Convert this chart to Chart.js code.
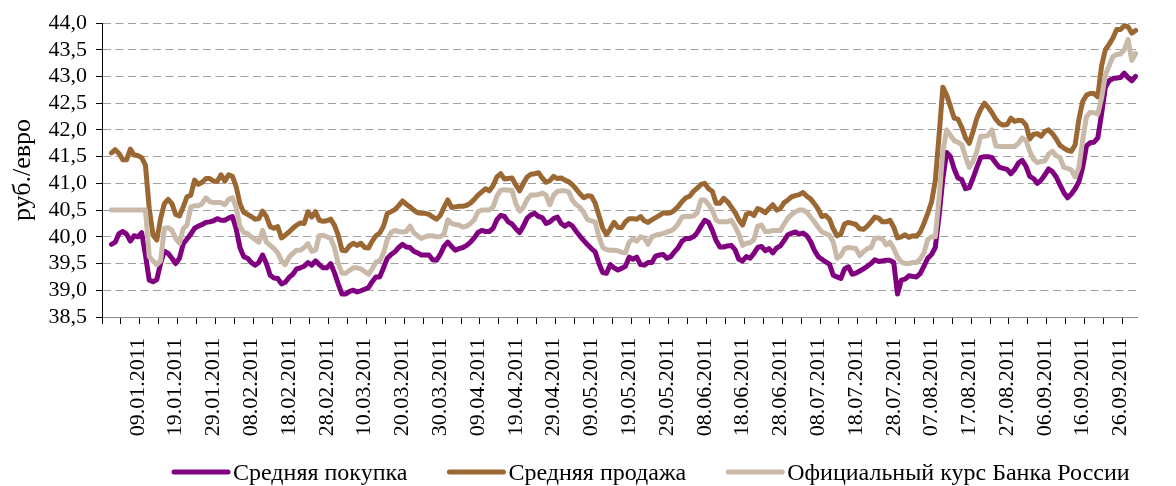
<!DOCTYPE html>
<html>
<head>
<meta charset="utf-8">
<script src="https://cdn.jsdelivr.net/npm/chart.js@4/dist/chart.umd.min.js"></script>
<style>
  html, body { margin: 0; padding: 0; background: #fff; }
  #wrap { width: 1176px; height: 486px; position: relative; }
</style>
</head>
<body>
<div id="wrap"><canvas id="myChart"></canvas></div>
<script>
// daily categories 31.12.2010 - 30.09.2011
const firstDay = new Date(2010, 11, 31);
const dayCount = 274;
const dates = [];
for (let i = 0; i < dayCount; i++) {
  const d = new Date(firstDay.getFullYear(), firstDay.getMonth(), firstDay.getDate() + i);
  dates.push(String(d.getDate()).padStart(2, '0') + '.' + String(d.getMonth() + 1).padStart(2, '0') + '.' + d.getFullYear());
}

const seriesNames = ['Средняя покупка', 'Средняя продажа', 'Официальный курс Банка России'];
const yTicks = [38.5, 44.0, 0.5]; // min, max, step

const buy = [null, null,
  39.86, 39.9, 40.06, 40.1, 40.05, 39.92, 40.02, 40.0, 40.08, 39.66,
  39.19, 39.16, 39.2, 39.5, 39.73, 39.69, 39.6, 39.5, 39.6, 39.87,
  39.96, 40.05, 40.16, 40.2, 40.23, 40.27, 40.28, 40.3, 40.34, 40.31,
  40.31, 40.35, 40.38, 40.15, 39.8, 39.63, 39.6, 39.52, 39.47, 39.52,
  39.66, 39.5, 39.28, 39.23, 39.22, 39.12, 39.15, 39.24, 39.3, 39.4,
  39.42, 39.45, 39.52, 39.47, 39.55, 39.48, 39.42, 39.42, 39.5, 39.33,
  39.12, 38.93, 38.93, 38.98, 39.0, 38.97, 38.99, 39.02, 39.05, 39.16,
  39.25, 39.25, 39.42, 39.6, 39.67, 39.72, 39.8, 39.86, 39.81, 39.8,
  39.73, 39.7, 39.66, 39.66, 39.66, 39.57, 39.56, 39.67, 39.82, 39.9,
  39.82, 39.75, 39.78, 39.8, 39.84, 39.9, 39.98, 40.08, 40.12, 40.1,
  40.1, 40.16, 40.32, 40.4, 40.38, 40.28, 40.24, 40.15, 40.08, 40.2,
  40.35, 40.41, 40.44, 40.38, 40.36, 40.25, 40.28, 40.34, 40.37, 40.25,
  40.2, 40.25, 40.2, 40.1, 40.01, 39.93, 39.85, 39.78, 39.72, 39.5,
  39.33, 39.32, 39.48, 39.42, 39.38, 39.41, 39.45, 39.62, 39.58, 39.62,
  39.48, 39.47, 39.52, 39.52, 39.64, 39.66, 39.67, 39.6, 39.63, 39.72,
  39.8, 39.92, 39.97, 39.97, 40.0, 40.08, 40.2, 40.31, 40.27, 40.12,
  39.93, 39.81, 39.81, 39.83, 39.84, 39.76, 39.58, 39.55, 39.63, 39.6,
  39.69, 39.8, 39.82, 39.74, 39.78, 39.7, 39.79, 39.83, 39.93, 40.04,
  40.07, 40.09, 40.05, 40.07, 40.02, 39.91, 39.75, 39.63, 39.58, 39.53,
  39.49, 39.28, 39.25, 39.22, 39.4, 39.44, 39.3, 39.32, 39.36, 39.4,
  39.45, 39.5, 39.57, 39.54, 39.55, 39.56, 39.56, 39.52, 38.93, 39.19,
  39.21, 39.27, 39.26, 39.25, 39.31, 39.45, 39.6, 39.67, 39.8, 40.4,
  41.09, 41.58, 41.5, 41.27, 41.1, 41.07, 40.9, 40.92, 41.1, 41.3,
  41.48, 41.5, 41.5, 41.48, 41.38, 41.3, 41.28, 41.26, 41.18, 41.26,
  41.38, 41.43, 41.32, 41.13, 41.09, 41.0, 41.06, 41.16, 41.27, 41.22,
  41.12, 40.97, 40.83, 40.73, 40.8, 40.9, 41.03, 41.3, 41.7, 41.76,
  41.77, 41.85, 42.3, 42.8, 42.92, 42.96, 42.97, 42.98, 43.06, 42.98, 42.92, 43.0
];

const sell = [null, null,
  41.57, 41.63, 41.56, 41.44, 41.44, 41.64, 41.53, 41.52, 41.48, 41.34,
  40.53, 40.03, 39.94, 40.34, 40.62, 40.7, 40.62, 40.42, 40.39, 40.56,
  40.75, 40.78, 41.06, 40.98, 41.02, 41.09, 41.09, 41.04, 41.04, 41.16,
  41.04, 41.16, 41.13, 40.94, 40.62, 40.46, 40.42, 40.38, 40.33, 40.34,
  40.48, 40.38, 40.19, 40.16, 40.19, 39.98, 40.03, 40.09, 40.16, 40.22,
  40.26, 40.25, 40.47, 40.37, 40.47, 40.31, 40.29, 40.3, 40.33, 40.22,
  40.03, 39.75, 39.74, 39.83, 39.88, 39.84, 39.88, 39.8, 39.79, 39.92,
  40.02, 40.07, 40.2, 40.44, 40.47, 40.51, 40.58, 40.67, 40.61, 40.56,
  40.5, 40.45, 40.44, 40.44, 40.42, 40.37, 40.33, 40.4, 40.55, 40.69,
  40.55, 40.56, 40.57, 40.57, 40.59, 40.63, 40.7, 40.78, 40.84, 40.9,
  40.86, 40.96, 41.12, 41.18, 41.08, 41.09, 41.1, 40.97, 40.86, 41.0,
  41.12, 41.17, 41.18, 41.2, 41.1, 41.02, 41.05, 41.13, 41.09, 41.1,
  41.06, 41.03, 40.97, 40.89, 40.8, 40.73, 40.77, 40.76, 40.63, 40.4,
  40.16, 40.04, 40.15, 40.27, 40.18, 40.17, 40.28, 40.34, 40.34, 40.33,
  40.38, 40.3, 40.27, 40.32, 40.36, 40.4, 40.45, 40.44, 40.45, 40.5,
  40.57, 40.66, 40.73, 40.76, 40.85, 40.91, 40.98, 41.0, 40.9, 40.85,
  40.63, 40.63, 40.72, 40.66, 40.56, 40.46, 40.32, 40.22, 40.42, 40.45,
  40.4, 40.53, 40.5, 40.45, 40.53, 40.6, 40.5, 40.53, 40.64, 40.69,
  40.75, 40.77, 40.79, 40.83, 40.76, 40.71, 40.62, 40.52, 40.38, 40.4,
  40.33, 40.15, 40.02, 40.05, 40.24, 40.27, 40.25, 40.23, 40.15, 40.14,
  40.2, 40.28, 40.37, 40.35, 40.28, 40.28, 40.31, 40.18, 39.98, 40.0,
  40.04, 39.99, 40.02, 40.01, 40.09, 40.25, 40.44, 40.65, 41.05, 41.9,
  42.8, 42.65, 42.44, 42.22, 42.2, 42.05, 41.85, 41.75, 41.97, 42.22,
  42.38, 42.5, 42.42, 42.32, 42.2, 42.12, 42.09, 42.1, 42.22, 42.16,
  42.18, 42.17, 42.09, 41.83, 41.92, 41.93, 41.88, 41.97, 42.0, 41.93,
  41.83, 41.71, 41.66, 41.62, 41.6, 41.72, 42.2, 42.53, 42.65, 42.68,
  42.68, 42.62, 43.2, 43.5, 43.6, 43.72, 43.88, 43.88, 43.95, 43.93, 43.81, 43.86
];

const official = [null, null,
  40.5, 40.5, 40.5, 40.5, 40.5, 40.5, 40.5, 40.5, 40.5, 40.5,
  39.63, 39.55, 39.48, 39.55, 40.16, 40.17, 40.12, 39.97, 39.88, 40.15,
  40.22, 40.56, 40.58, 40.58, 40.62, 40.73, 40.66, 40.64, 40.64, 40.64,
  40.6, 40.7, 40.73, 40.55, 40.2, 40.08, 40.06, 40.0, 39.95, 39.9,
  40.12, 39.9, 39.84, 39.78, 39.7, 39.55, 39.48, 39.62, 39.69, 39.75,
  39.75, 39.8, 39.87, 39.73, 39.75, 40.02, 40.03, 40.0, 39.97, 39.8,
  39.5, 39.32, 39.32, 39.37, 39.42, 39.42, 39.4, 39.35, 39.3, 39.4,
  39.53, 39.55, 39.7, 39.95, 40.08, 40.12, 40.1, 40.09, 40.1, 40.2,
  40.08, 40.02, 39.97, 40.0, 40.02, 40.02, 40.0, 40.0, 40.05, 40.32,
  40.25, 40.23, 40.22, 40.18, 40.2, 40.25, 40.32, 40.47, 40.5, 40.5,
  40.5, 40.56, 40.76, 40.87, 40.88, 40.87, 40.87, 40.62, 40.48, 40.55,
  40.7, 40.78, 40.78, 40.79, 40.82, 40.78, 40.6, 40.78, 40.85, 40.86,
  40.86, 40.84, 40.68, 40.6, 40.55, 40.45, 40.32, 40.3, 40.28, 40.0,
  39.8, 39.76, 39.75, 39.75, 39.74, 39.71, 39.7, 39.9, 39.96, 39.92,
  40.0, 39.98, 39.86, 40.0, 40.03, 40.05, 40.06, 40.09, 40.11, 40.16,
  40.25, 40.37, 40.38, 40.38, 40.39, 40.45, 40.69, 40.69, 40.6, 40.5,
  40.31, 40.28, 40.28, 40.28, 40.31, 40.2, 40.05, 39.84, 39.88, 39.89,
  39.95, 40.2, 40.22, 40.1, 40.1, 40.12, 40.12, 40.12, 40.24, 40.35,
  40.42, 40.47, 40.5, 40.5, 40.46, 40.37, 40.28, 40.18, 40.09, 40.06,
  40.03, 39.9, 39.6, 39.65, 39.78, 39.8, 39.79, 39.78, 39.65, 39.72,
  39.78, 39.8, 39.97, 39.98, 39.96, 39.85, 39.9, 39.78, 39.62, 39.53,
  39.5, 39.5, 39.52, 39.52, 39.58, 39.7, 39.95, 40.0, 40.0, 40.72,
  41.6, 42.0, 41.9, 41.8, 41.77, 41.72, 41.5, 41.3, 41.42, 41.6,
  41.88, 41.88, 41.9, 42.0, 41.7, 41.69, 41.69, 41.69, 41.69, 41.69,
  41.75, 41.85, 41.8, 41.6, 41.45, 41.39, 41.41, 41.42, 41.55, 41.6,
  41.52, 41.48, 41.3, 41.28, 41.25, 41.12, 41.3, 41.81, 42.25, 42.33,
  42.32, 42.3, 42.6, 43.03, 43.2, 43.37, 43.41, 43.42, 43.5, 43.69, 43.3, 43.43
];

const colors = ['#800080', '#9b6733', '#c9b9a8'];
const FONT = '"Liberation Serif", "Times New Roman", serif';

// legend drawn by hand: short thick line + text, as in the original
const lineLegend = {
  id: 'lineLegend',
  afterDraw(chart) {
    const ctx = chart.ctx;
    ctx.save();
    ctx.font = '24px ' + FONT;
    ctx.textBaseline = 'alphabetic';
    ctx.fillStyle = '#000';
    let x = 172;
    const y = 472;
    chart.data.datasets.forEach((ds) => {
      ctx.strokeStyle = ds.borderColor;
      ctx.lineWidth = 5;
      ctx.lineCap = 'round';
      ctx.beginPath();
      ctx.moveTo(x + 2, y);
      ctx.lineTo(x + 56, y);
      ctx.stroke();
      ctx.fillText(ds.label, x + 61, y + 8);
      x += 61 + ctx.measureText(ds.label).width + 40;
    });
    ctx.restore();
  }
};

const ctx = document.getElementById('myChart').getContext('2d');
const myChart = new Chart(ctx, {
  type: 'line',
  data: {
    labels: dates,
    datasets: [
      { label: seriesNames[0], data: buy, borderColor: colors[0], order: 2 },
      { label: seriesNames[1], data: sell, borderColor: colors[1], order: 1 },
      { label: seriesNames[2], data: official, borderColor: colors[2], order: 0 }
    ]
  },
  options: {
    responsive: true,
    maintainAspectRatio: false,
    animation: false,
    layout: { padding: { left: 0, right: 3, top: 23, bottom: 0 } },
    elements: {
      point: { radius: 0 },
      line: { borderWidth: 5, tension: 0, borderCapStyle: 'round', borderJoinStyle: 'round', fill: false }
    },
    plugins: {
      legend: { display: false },
      tooltip: { enabled: false }
    },
    scales: {
      x: {
        type: 'category',
        offset: true,
        afterFit(scale) { scale.height = 169; },
        grid: {
          offset: true,
          drawOnChartArea: false,
          drawTicks: true,
          tickLength: 7,
          color: (c) => (c.index !== undefined && c.index % 5 === 0) ? '#000' : 'rgba(0,0,0,0)'
        },
        border: { display: true, color: '#888', width: 1 },
        ticks: {
          autoSkip: false,
          maxRotation: 90,
          minRotation: 90,
          padding: 14,
          color: '#000',
          font: { family: FONT, size: 22 },
          callback: function (val, index) { return index % 10 === 9 ? dates[index] : ''; }
        }
      },
      y: {
        min: yTicks[0],
        max: yTicks[1],
        afterFit(scale) { scale.width = 102; },
        border: { display: true, color: '#000', width: 1, dash: [8, 4.5] },
        grid: {
          color: '#a0a0a0',
          tickColor: '#000',
          tickLength: 6,
          tickBorderDash: [],
          lineWidth: 1
        },
        ticks: {
          autoSkip: false,
          stepSize: yTicks[2],
          padding: 9,
          color: '#000',
          font: { family: FONT, size: 22 },
          callback: (v) => v.toFixed(1).replace('.', ',')
        },
        title: {
          display: true,
          text: 'руб./евро',
          color: '#000',
          padding: { top: 8, bottom: 0 },
          font: { family: FONT, size: 26 }
        }
      }
    }
  },
  plugins: [lineLegend]
});
</script>
</body>
</html>
